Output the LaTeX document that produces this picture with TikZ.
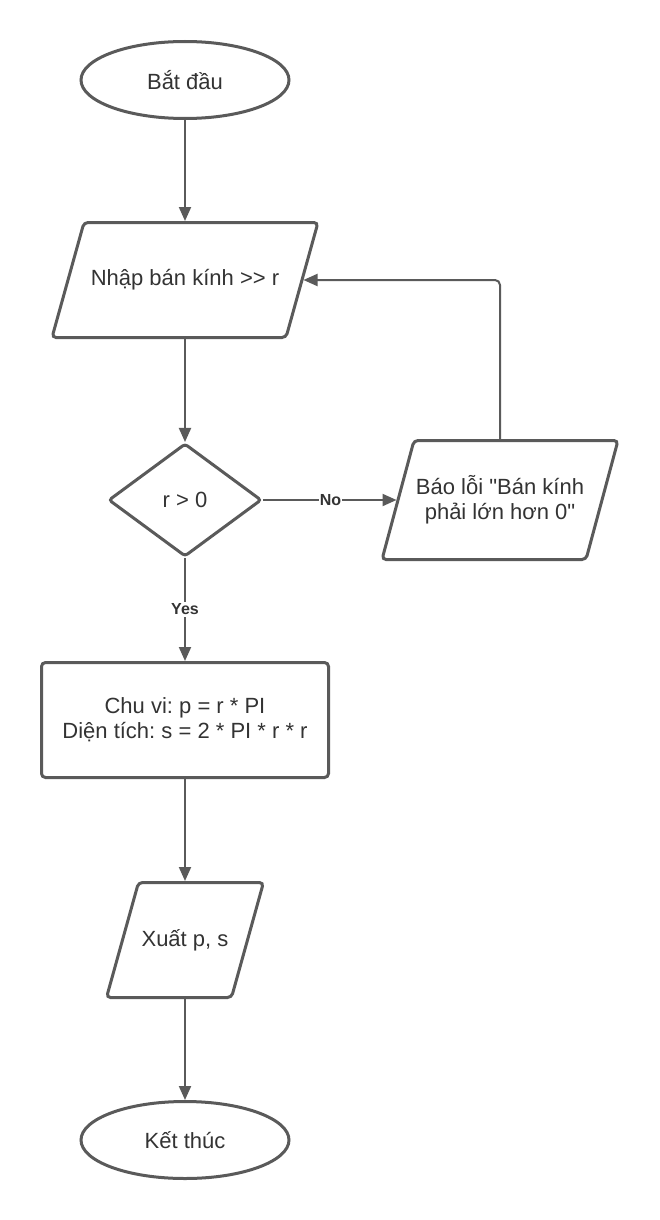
\documentclass[tikz,border=0pt]{standalone}
\usepackage{fontspec}
\setmainfont{Liberation Sans}[Ligatures=TeXOff]
\usetikzlibrary{shapes.geometric,arrows.meta,calc}
\definecolor{lc}{HTML}{5A5A5A}
\definecolor{tc}{HTML}{333333}
\frenchspacing
\begin{document}
\begin{tikzpicture}[x=1pt,y=-1pt,
 every node/.style={font=\fontsize{22}{25}\selectfont\frenchspacing, text=tc},
 term/.style={draw=lc, line width=3pt, ellipse, minimum width=208pt, minimum height=77pt, inner sep=0pt},
 proc/.style={draw=lc, line width=3pt, rounded corners=4pt, rectangle, minimum width=287pt, minimum height=115pt, align=center},
 decn/.style={draw=lc, line width=3pt, rounded corners=3pt, diamond, minimum width=153pt, minimum height=113pt, inner sep=0pt},
 iobox/.style={rectangle, minimum height=115pt, inner sep=0pt, outer sep=0pt, align=center},
 para/.style={draw=lc, line width=3pt, rounded corners=4pt},
 conn/.style={draw=lc, line width=2pt, -{Triangle[length=14pt,width=12pt]}},
 lbl/.style={font=\fontsize{16}{18}\selectfont\bfseries, fill=white, inner sep=1pt, text=tc}
]
\useasboundingbox (0,0) rectangle (660,1220);
\fill[white] (0,0) rectangle (660,1220);

\node[term] (start) at (185,80) {Bắt đầu};
\node[iobox, minimum width=234pt] (in) at (185,280) {Nhập bán kính >> r};
\node[decn] (dec) at (185,500) {r > 0};
\node[iobox, minimum width=204pt, minimum height=119pt] (err) at (500,500) {Báo lỗi "Bán kính\\phải lớn hơn 0"};
\node[proc] (calc) at (185,720) {Chu vi: p = r * PI\\Diện tích: s = 2 * PI * r * r};
\node[iobox, minimum width=125pt] (out) at (185,940) {Xuất p, s};
\node[term] (end) at (185,1140) {Kết thúc};

\foreach \n in {in,err,out}{
  \draw[para] ($(\n.north west)+(16,0)$) -- ($(\n.north east)+(16,0)$)
     -- ($(\n.south east)+(-16,0)$) -- ($(\n.south west)+(-16,0)$) -- cycle;
}

\draw[conn, shorten >=1.5pt] (start) -- (in);
\draw[conn, shorten <=1.5pt] (in) -- (dec);
\draw[conn, shorten >=1.5pt] (dec.east) -- node[lbl]{No} (err.west);
\draw[conn, rounded corners=5pt, shorten <=1.5pt, shorten >=1.5pt] (err.north) |- (in.east);
\draw[conn] (dec.south) -- node[lbl, inner sep=2pt]{Yes} (calc.north);
\draw[conn, shorten >=1.5pt] (calc.south) -- (out.north);
\draw[conn, shorten <=1.5pt] (out.south) -- (end.north);
\end{tikzpicture}
\end{document}
